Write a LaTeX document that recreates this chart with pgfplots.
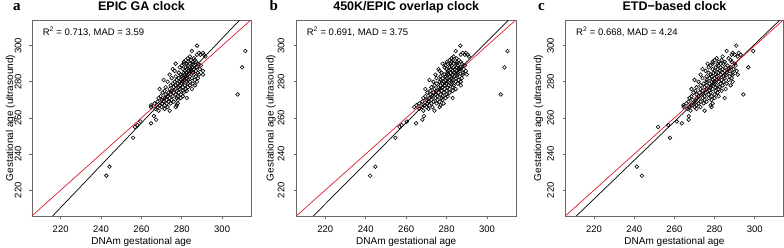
\documentclass[border=0pt]{standalone}
\usepackage{fontspec}
\setmainfont{Liberation Sans}
\newfontfamily\serifbf{Liberation Serif}
\usepackage{pgfplots}
\usepackage{pgfplotstable}
\pgfplotsset{compat=1.18}
\definecolor{boxgray}{RGB}{105,105,105}
\definecolor{lred}{RGB}{222,28,45}

\pgfplotstableread{
y xa xb xc
300 287.6 286.8 290.8
297 311.5 310.1 299.2
297 285 284.5 286
296 288.5 288 289
296 290.5 289.5 292
295 287.5 287 288.5
295 289.2 289 290
295 291 290.5 293
294 284 283.5 284
294 291.7 291 291.5
293 283 282.5 281
293 286 285 287
292 282 281.5 280
292 284.5 283 283.5
292 286.5 286 288
291 281 280 279
291 283 282.5 282
291 285.5 285 285
291 287 287 288.5
290 277 278 276.5
290 281 280.5 279
290 282.5 282 281.5
290 284 283.5 283
290 285.5 285 284.5
290 288 287.5 290
289 280 279.5 278
289 283 282.5 282
289 286 285.5 286.5
289 289.5 289 290.5
288 279 279 277
288 282 281.5 280.5
288 284 283.5 283
288 285 285 285.5
288 287.5 287 288
288 309.9 308.6 296.8
287 275.5 276 274
287 280.5 280 279
287 282.5 282 281.5
287 284.5 284 284
287 286 286.5 287
287 289 288.5 289.5
286 276.5 276.5 275.5
286 281.5 280.5 280
286 283 283 282.5
286 284.5 285 285
286 287 286.5 287.5
286 290.5 289.5 291
285 278.5 277.5 277
285 281 280.5 279.5
285 282.5 282 282
285 284 283.5 284
285 285.5 285.5 286
285 288 288 289
284 274 274.5 273
284 279.5 279 278
284 281.5 281 280.5
284 283 283 283
284 286 285.5 286
284 288.5 288 289
284 290.5 290 291.5
283 277 277 276
283 280 279.5 278.5
283 282 281.5 281
283 284 284 284.5
283 287 286.5 287.5
282 275 275 274
282 278.5 278 277.5
282 280.5 280 280
282 282.5 282.5 282
282 285 284.5 285
282 288 287.5 288.5
281 271 271.5 270
281 277.5 277 276
281 279.5 279.5 279
281 281 281.5 281
281 283 283 283.5
281 286.5 286 287
280 273 273.5 272
280 276.5 276.5 276
280 279 278.5 278.5
280 280.5 280.5 280
280 282.5 282.5 282
280 284 284.5 284.5
280 287.5 287 289
279 275.5 275 274.5
279 278 278 277.5
279 280 280 280
279 283 282.5 283
279 285.5 285.5 286
278 274.5 274 273
278 277 277 276
278 279 279 278.5
278 281.5 281 281
278 284 283.5 284
278 286.5 287 288
277 272 272.5 271
277 276 276 275
277 278.5 278 278
277 280.5 280.5 280.5
277 283 283 282.5
276 269 269.5 268.5
276 274 274 273
276 277 276.5 276
276 279 279 279
276 282 281.5 282
276 285 284.5 285.5
275 271.5 272 270.5
275 275 275 274
275 277.5 277.5 277.5
275 280.5 280 280.5
275 282.5 283 283.5
274 270.5 270.5 269.5
274 273.5 273.5 272.5
274 276 276 275.5
274 278.5 278.5 278
274 281 281.5 281.5
273 272 272 271
273 274.5 274.5 274
273 277 277 277
273 279.5 280 280
273 307.7 306.8 294.3
272 269.5 269.5 268.5
272 273 273 272
272 275.5 275.5 275
272 278 278 278.5
272 280.5 280.5 282
271 268.5 268.5 267.5
271 271.5 271.5 271
271 274 274.5 274
271 277.5 277.5 277
271 279.5 279.5 280
271 282.5 283 285
270 270 270 269
270 272.5 272.5 272
270 275 275.5 275
270 278 278 278.5
269 268 268 267
269 271 271 270
269 273.5 273.5 273
269 276 276.5 276
268 266.5 266.5 266
268 270.5 270.5 270
268 272.5 272.5 272
268 274.5 275 274.5
268 278 278.5 279
267 264.8 265 264.5
267 269 269 268.5
267 271.5 271.5 271
267 277.5 277 278
266 264.8 264 264.6
266 268 268 267.5
266 270 270 270
266 273 273 273
266 277 276.5 278.5
265 267 266.5 266.5
265 271.5 271 271
264 268.5 268.5 268
264 274 274 275
261 266.2 268.8 267.1
259 267.3 268 267.1
258 259.5 260.3 261.2
257 264.8 264.9 263.7
256 258 257.8 257
255 256.8 256.7 251.9
249 255.9 254.7 257.8
233 244.2 244.8 241.3
228 242.6 242.2 243.8
}\data

\pgfplotsset{
  panel/.style={
    scale only axis, height=196pt, anchor=south west,
    xmin=205.8, xmax=314.3, ymin=205.7, ymax=314.2,
    xtick={220,240,...,300}, ytick={220,240,...,300},
    tick align=outside, tick pos=left, major tick length=3pt,
    axis line style={boxgray, line width=0.8pt},
    every tick/.style={boxgray, line width=0.6pt},
    ticklabel style={font=\fontsize{9.5}{11}\selectfont},
    /pgf/number format/assume math mode=true,
    xticklabel style={anchor=center, yshift=-10pt},
    xlabel={DNAm gestational age},
    ylabel={Gestational age (ultrasound)},
    label style={font=\fontsize{10.5}{12}\selectfont},
    every axis x label/.style={at={(axis description cs:0.5,-0.131)}, anchor=center},
    every axis title/.style={at={(axis description cs:0.5,1)}, anchor=base, yshift=10pt, font=\bfseries\fontsize{12.5}{14}\selectfont},
  },
  pts/.style={only marks, mark=o, mark size=1.85pt, black, mark options={line width=0.6pt}},
}

\begin{document}
\begin{tikzpicture}
\useasboundingbox (0,0) rectangle (784pt,247pt);

\begin{axis}[panel, at={(32pt,31pt)}, width=219pt, title={EPIC GA clock},
  yticklabel style={xshift=-11pt, rotate=90, anchor=center},
  every axis y label/.style={at={(axis description cs:-0.098,0.5)}, rotate=90, anchor=center}]
\addplot[pts] table[x=xa, y=y] {\data};
\addplot[black, line width=0.7pt] coordinates {(216,205.7) (308.7,314.2)};
\addplot[lred, line width=0.7pt] coordinates {(200,200) (320,320)};
\node[anchor=base west, font=\fontsize{9.5}{11}\selectfont] at (axis description cs:0.033,0.921) {R\textsuperscript{2} = 0.713, MAD = 3.59};
\end{axis}

\begin{axis}[panel, at={(296.5pt,31pt)}, width=219.5pt, title={450K/EPIC overlap clock},
  yticklabel style={xshift=-12.5pt, rotate=90, anchor=center},
  every axis y label/.style={at={(axis description cs:-0.116,0.5)}, rotate=90, anchor=center}]
\addplot[pts] table[x=xb, y=y] {\data};
\addplot[black, line width=0.7pt] coordinates {(214.1,205.7) (310.6,314.2)};
\addplot[lred, line width=0.7pt] coordinates {(200,200) (320,320)};
\node[anchor=base west, font=\fontsize{9.5}{11}\selectfont] at (axis description cs:0.031,0.921) {R\textsuperscript{2} = 0.691, MAD = 3.75};
\end{axis}

\begin{axis}[panel, at={(565.5pt,31pt)}, width=218pt, title={ETD−based clock},
  yticklabel style={xshift=-12pt, rotate=90, anchor=center},
  every axis y label/.style={at={(axis description cs:-0.124,0.5)}, rotate=90, anchor=center}]
\addplot[pts] table[x=xc, y=y] {\data};
\addplot[black, line width=0.7pt] coordinates {(211.2,205.7) (312.5,314.2)};
\addplot[lred, line width=0.7pt] coordinates {(200,200) (320,320)};
\node[anchor=base west, font=\fontsize{9.5}{11}\selectfont] at (axis description cs:0.033,0.921) {R\textsuperscript{2} = 0.668, MAD = 4.24};
\end{axis}

\node[anchor=base west, font=\serifbf\bfseries\fontsize{15}{17}\selectfont] at (9.5pt,236.5pt) {a};
\node[anchor=base west, font=\serifbf\bfseries\fontsize{15}{17}\selectfont] at (266pt,236.5pt) {b};
\node[anchor=base west, font=\serifbf\bfseries\fontsize{15}{17}\selectfont] at (534.5pt,236.5pt) {c};
\end{tikzpicture}
\end{document}
